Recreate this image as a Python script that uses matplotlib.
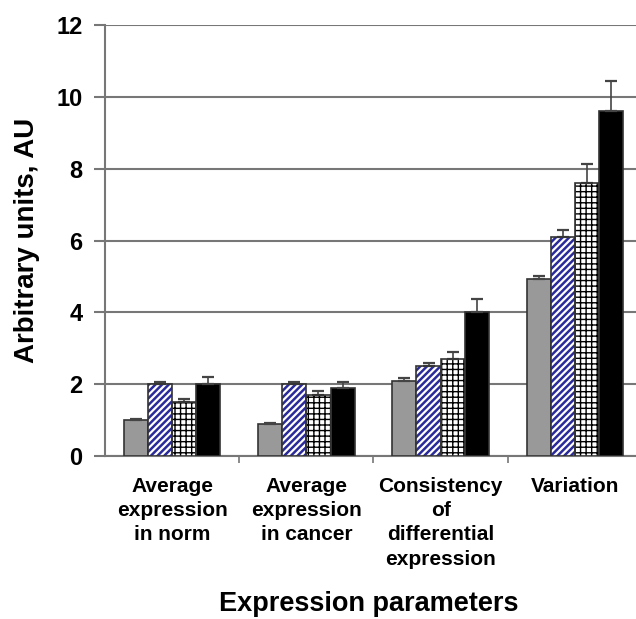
import numpy as np
from matplotlib import pyplot as plt

plt.rcParams['font.family'] = ['Liberation Sans', 'DejaVu Sans']
plt.rcParams['hatch.linewidth'] = 1.8

# categories and values
categories = ["Average\nexpression\nin norm", "Average\nexpression\nin cancer",
              "Consistency\nof\ndifferential\nexpression", "Variation"]
gray_vals = [1.0, 0.9, 2.1, 4.93]
gray_err = [0.02, 0.02, 0.06, 0.08]
blue_vals = [2.0, 2.0, 2.5, 6.1]
blue_err = [0.05, 0.05, 0.1, 0.2]
grid_vals = [1.5, 1.7, 2.7, 7.6]
grid_err = [0.1, 0.12, 0.2, 0.53]
black_vals = [2.0, 1.9, 4.0, 9.6]
black_err = [0.2, 0.15, 0.38, 0.85]

fig = plt.figure(figsize=(6.36, 6.19), dpi=100)
ax = fig.add_axes([0.165, 0.2633, 0.835, 0.6963])

x = np.arange(len(categories))
w = 0.18
edge = "#333333"
ek = dict(ecolor="#444444", elinewidth=1.2, capsize=4, capthick=1.6)

ax.bar(x - 1.5 * w, gray_vals, w, color="#999999", edgecolor=edge, lw=1.2, zorder=3,
       yerr=[np.zeros(4), gray_err], error_kw=ek)
ax.bar(x - 0.5 * w, blue_vals, w, color="white", edgecolor="#2a2a9a", hatch="/////", lw=0, zorder=3,
       yerr=[np.zeros(4), blue_err], error_kw=ek)
ax.bar(x - 0.5 * w, blue_vals, w, color="none", edgecolor=edge, lw=1.2, zorder=4)
plt.rcParams['hatch.linewidth'] = 1.0
ax.bar(x + 0.5 * w, grid_vals, w, color="white", edgecolor="black", hatch="+++", lw=0, zorder=3,
       yerr=[np.zeros(4), grid_err], error_kw=ek)
ax.bar(x + 0.5 * w, grid_vals, w, color="none", edgecolor=edge, lw=1.2, zorder=4)
ax.bar(x + 1.5 * w, black_vals, w, color="black", edgecolor=edge, lw=1.2, zorder=3,
       yerr=[np.zeros(4), black_err], error_kw=ek)

ax.set_ylim(0, 12)
ax.set_xlim(-0.5, 3.455)
ax.set_yticks(range(0, 13, 2))
ax.yaxis.grid(True, color="#777777", lw=1.5, zorder=0)
ax.set_axisbelow(True)
for s in ["top", "right"]:
    ax.spines[s].set_visible(False)
ax.spines["left"].set_color("#777777")
ax.spines["left"].set_linewidth(1.5)
ax.spines["bottom"].set_color("#777777")
ax.spines["bottom"].set_linewidth(1.5)
ax.tick_params(axis="y", length=8, width=1.5, color="#777777", labelsize=17, pad=8)
for t in ax.get_yticklabels():
    t.set_fontweight("bold")

ax.set_xticks(x)
ax.set_xticklabels(categories, fontsize=15, fontweight="bold", linespacing=1.35, va="top")
ax.tick_params(axis="x", length=0, pad=15)
ax.set_xticks([0.5, 1.5, 2.5], minor=True)
ax.tick_params(axis="x", which="minor", length=5, width=1.2, color="#777777")

ax.set_ylabel("Arbitrary units, AU", fontsize=20, fontweight="bold", labelpad=12)
fig.text(0.58, 0.004, "Expression parameters", fontsize=19.5, fontweight="bold", ha="center", va="bottom")

plt.savefig("out.png", dpi=100)
